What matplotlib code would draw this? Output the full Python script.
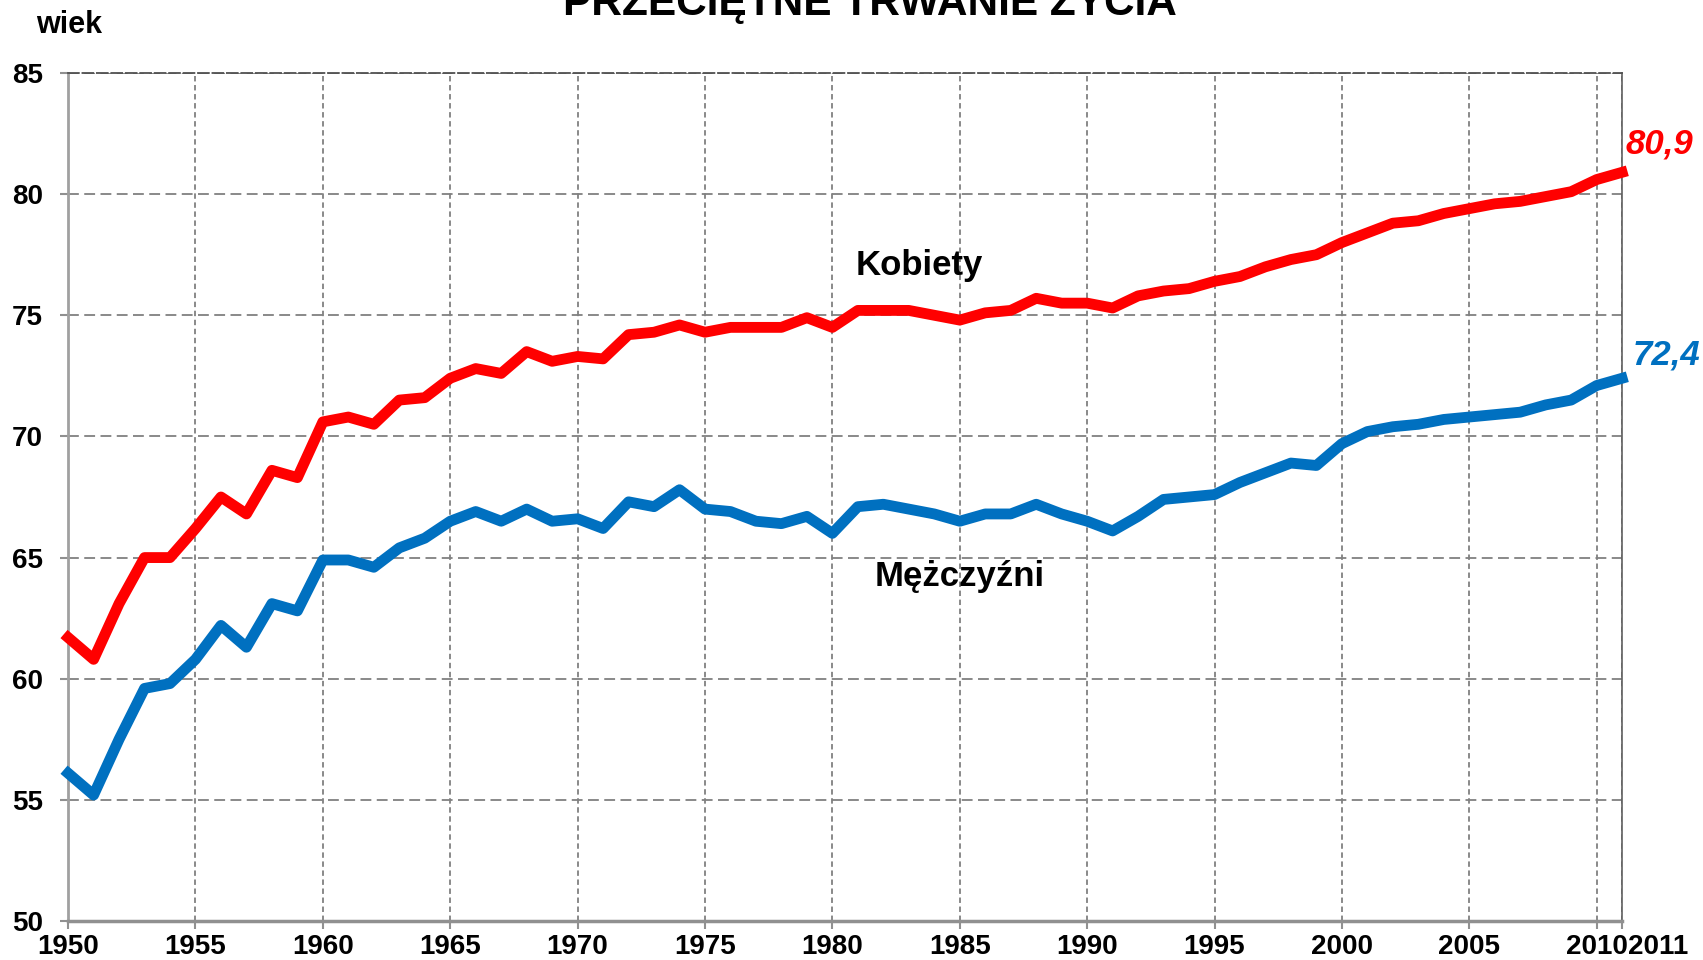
import matplotlib
matplotlib.use("Agg")
import matplotlib.pyplot as plt
import matplotlib.transforms as mtransforms

plt.rcParams['font.family'] = ['Liberation Sans', 'DejaVu Sans']

lata = list(range(1950, 2012))

kobiety = [61.7, 60.8, 63.1, 65.0, 65.0, 66.2, 67.5, 66.8, 68.6, 68.3,
           70.6, 70.8, 70.5, 71.5, 71.6, 72.4, 72.8, 72.6, 73.5, 73.1,
           73.3, 73.2, 74.2, 74.3, 74.6, 74.3, 74.5, 74.5, 74.5, 74.9,
           74.5, 75.2, 75.2, 75.2, 75.0, 74.8, 75.1, 75.2, 75.7, 75.5,
           75.5, 75.3, 75.8, 76.0, 76.1, 76.4, 76.6, 77.0, 77.3, 77.5,
           78.0, 78.4, 78.8, 78.9, 79.2, 79.4, 79.6, 79.7, 79.9, 80.1,
           80.6, 80.9]

mezczyzni = [56.1, 55.2, 57.5, 59.6, 59.8, 60.8, 62.2, 61.3, 63.1, 62.8,
             64.9, 64.9, 64.6, 65.4, 65.8, 66.5, 66.9, 66.5, 67.0, 66.5,
             66.6, 66.2, 67.3, 67.1, 67.8, 67.0, 66.9, 66.5, 66.4, 66.7,
             66.0, 67.1, 67.2, 67.0, 66.8, 66.5, 66.8, 66.8, 67.2, 66.8,
             66.5, 66.1, 66.7, 67.4, 67.5, 67.6, 68.1, 68.5, 68.9, 68.8,
             69.7, 70.2, 70.4, 70.5, 70.7, 70.8, 70.9, 71.0, 71.3, 71.5,
             72.1, 72.4]

xticks = list(range(1950, 2011, 5)) + [2011]
yticks = list(range(50, 86, 5))

fig = plt.figure(figsize=(17.03, 9.6), dpi=100)
ax = fig.add_axes([0.040, 0.0406, 0.9125, 0.8834])

ax.plot(lata, kobiety, color='#FF0000', lw=7.8, solid_joinstyle='round', zorder=3, clip_on=False)
ax.plot(lata, mezczyzni, color='#0070C0', lw=7.8, solid_joinstyle='round', zorder=3, clip_on=False)

ax.set_xlim(1950, 2011)
ax.set_ylim(50, 85)
ax.set_xticks(xticks)
ax.set_yticks(yticks)
ax.tick_params(length=6, width=1.5, color='#909090', direction='out')
ax.tick_params(axis='y', pad=12, labelsize=20)
ax.tick_params(axis='x', pad=3, labelsize=20)
for lab in ax.get_xticklabels() + ax.get_yticklabels():
    lab.set_fontweight('bold')

# etykieta 2011 odsunieta w prawo jak w oryginale
xl = ax.get_xticklabels()
off11 = mtransforms.ScaledTranslation(36 / 100, 0, fig.dpi_scale_trans)
xl[-1].set_transform(xl[-1].get_transform() + off11)

ax.grid(axis='y', color='#808080', ls=(0, (6, 3)), lw=1.3)
ax.grid(axis='x', color='#808080', ls=(0, (3, 2)), lw=1.3)
ax.set_axisbelow(True)

ax.spines['left'].set_color('#A0A0A0')
ax.spines['left'].set_linewidth(2)
ax.spines['bottom'].set_color('#909090')
ax.spines['bottom'].set_linewidth(2.5)
ax.spines['right'].set_color('#606060')
ax.spines['right'].set_linewidth(1.2)
ax.spines['top'].set_color('#505050')
ax.spines['top'].set_linestyle((0, (6, 2)))
ax.spines['top'].set_linewidth(1.3)

ax.text(1983.4, 77.05, 'Kobiety', fontsize=25, fontweight='bold', ha='center', va='center')
ax.text(1985.0, 64.2, 'Mężczyźni', fontsize=25, fontweight='bold', ha='center', va='center')
ax.text(2011.15, 82.05, '80,9', color='#FF0000', fontsize=25, fontweight='bold',
        fontstyle='italic', ha='left', va='center', clip_on=False)
ax.text(2011.4, 73.35, '72,4', color='#0070C0', fontsize=25, fontweight='bold',
        fontstyle='italic', ha='left', va='center', clip_on=False)

fig.text(0.511, 1 - 15 / 960, 'PRZECIĘTNE TRWANIE ŻYCIA', fontsize=30.5, fontweight='bold',
         ha='center', va='baseline')
fig.text(36 / 1703, 1 - 25 / 960, 'wiek', fontsize=22, fontweight='bold', ha='left', va='center')

fig.savefig('out.png', dpi=100)
